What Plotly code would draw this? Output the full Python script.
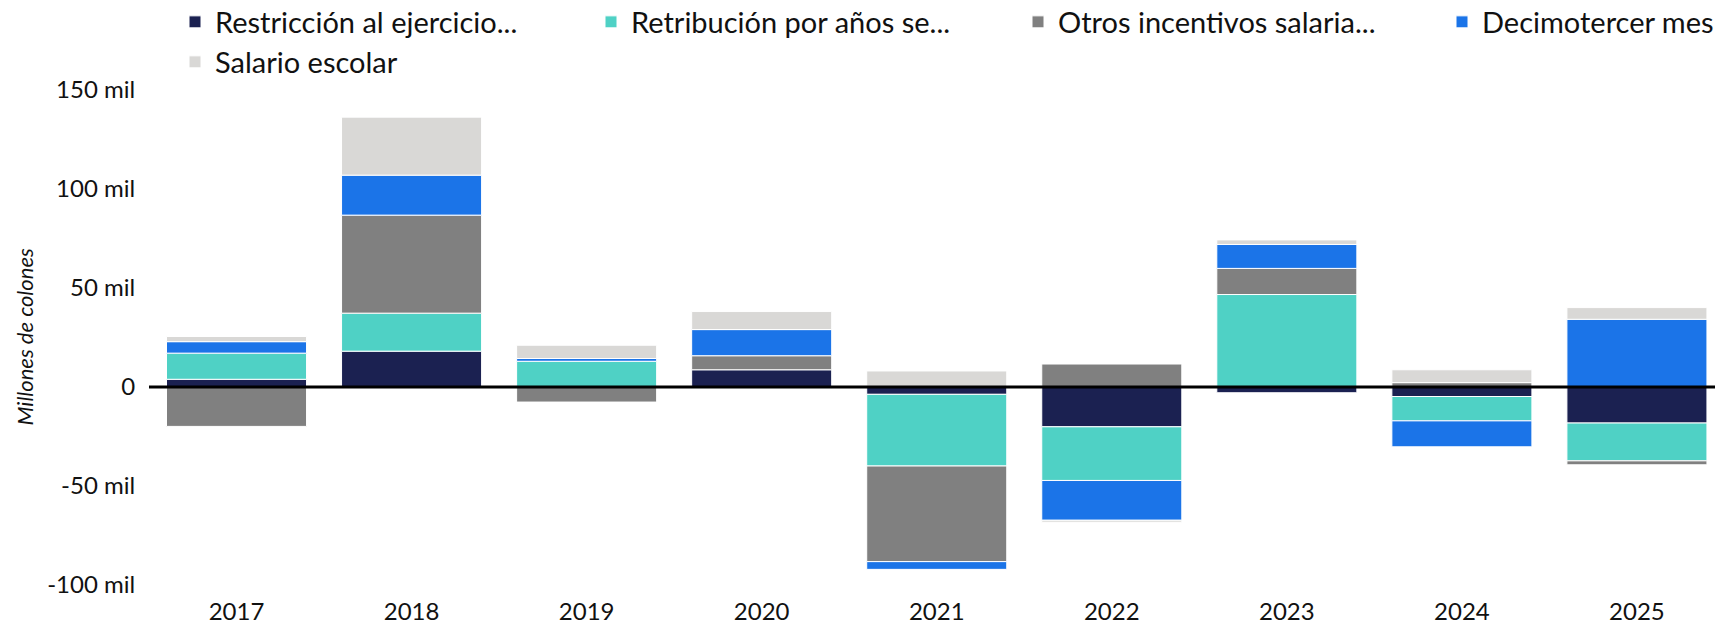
import plotly.graph_objects as go

years = ["2017", "2018", "2019", "2020", "2021", "2022", "2023", "2024", "2025"]

series_names = [
    "Restricción al ejercicio...",
    "Retribución por años se...",
    "Otros incentivos salaria...",
    "Decimotercer mes",
    "Salario escolar",
]

restriccion = [3900, 18100, 0, 8700, -3700, -20100, -2900, -4800, -18200]
retribucion = [13200, 19200, 13000, -800, -36200, -27100, 46700, -12300, -19100]
otros = [-19900, 49500, -7600, 7100, -48300, 11600, 13200, 2200, -2000]
decimotercer = [5800, 20200, 1400, 13200, -3900, -20100, 12100, -13100, 34200]
salario_escolar = [2600, 29300, 6700, 9100, 8100, -1000, 2300, 6500, 5900]

colors = ["#1b2151", "#4fd1c5", "#808080", "#1b74e8", "#d9d8d6"]

tick_vals = [-100000, -50000, 0, 50000, 100000, 150000]
tick_text = ["-100 mil", "-50 mil", "0", "50 mil", "100 mil", "150 mil"]

all_series = [restriccion, retribucion, otros, decimotercer, salario_escolar]

W, H = 1715, 626
# legend entry positions (px) and row centres (px)
legend_x_px = [175, 591, 1018, 1442, 175]
legend_y_px = [22, 22, 22, 22, 62]
legend_ids = ["legend", "legend2", "legend3", "legend4", "legend5"]

fig = go.Figure()
for name, vals, col, lid in zip(series_names, all_series, colors, legend_ids):
    fig.add_trace(go.Bar(
        x=years, y=vals, name=name, legend=lid,
        marker=dict(color=col, line=dict(color="white", width=1)),
    ))

legend_font = dict(size=29, family="Lato", color="#111111")
legends = {}
for lid, lx, ly in zip(legend_ids, legend_x_px, legend_y_px):
    legends[lid] = dict(
        orientation="h", xref="container", yref="container",
        x=lx / W, xanchor="left", y=1 - ly / H, yanchor="middle",
        font=legend_font, bgcolor="rgba(0,0,0,0)", borderwidth=0,
    )

fig.update_layout(
    barmode="relative",
    bargap=0.2,
    width=W, height=H,
    margin=dict(l=149, r=0, t=90, b=41, autoexpand=False),
    paper_bgcolor="white", plot_bgcolor="white",
    font=dict(family="Lato", size=24, color="#111111"),
    showlegend=True,
    **legends,
)
fig.update_xaxes(
    type="category", range=[-0.5, 8.446],
    showgrid=False, showline=False,
    ticks="outside", ticklen=5, tickcolor="rgba(0,0,0,0)",
    tickfont=dict(size=24, family="Lato", color="#111111"),
)
fig.update_yaxes(
    range=[-100000, 150000],
    tickvals=tick_vals, ticktext=tick_text,
    showgrid=False, showline=False, zeroline=False,
    ticks="outside", ticklen=8, tickcolor="rgba(0,0,0,0)",
    tickfont=dict(size=24, family="Lato", color="#111111"),
)
fig.add_hline(y=0, line=dict(color="black", width=3), layer="above")
fig.add_annotation(
    text="<i>Millones de colones</i>", textangle=-90,
    xref="paper", yref="paper", x=0, y=0.5,
    xanchor="center", yanchor="middle", xshift=-125,
    showarrow=False, font=dict(size=22, family="Lato", color="#111111"),
)

fig.write_html(
    "out.html",
    config={"displayModeBar": False},
    post_script="document.body.style.margin='0';",
)
